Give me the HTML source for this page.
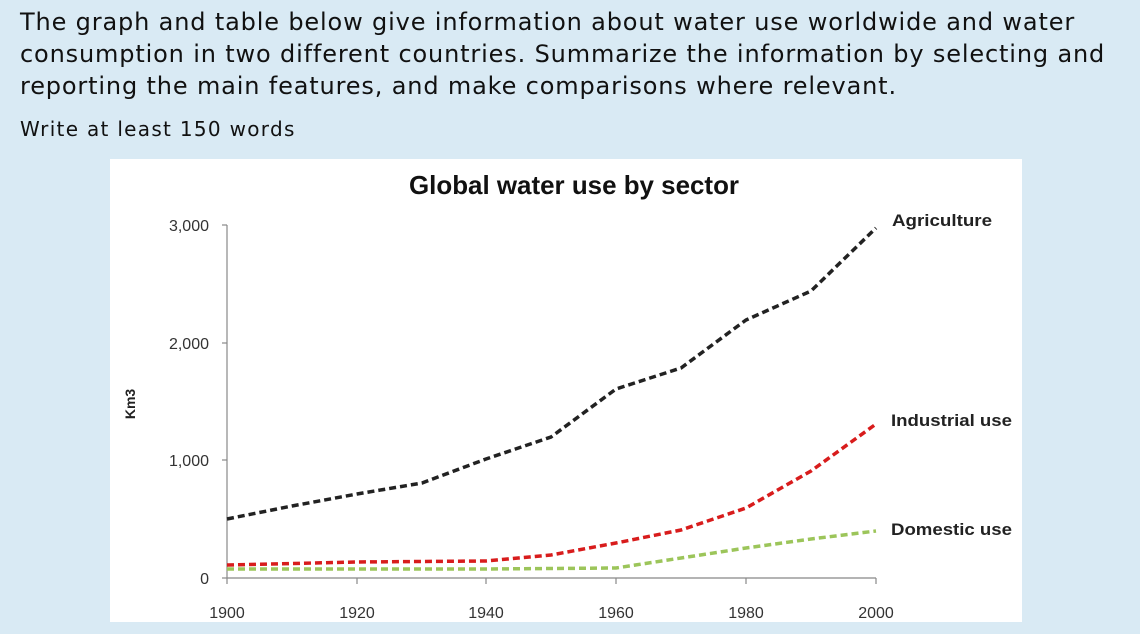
<!DOCTYPE html>
<html><head><meta charset="utf-8"><style>
body{margin:0;width:1140px;height:634px;background:#d9eaf4;font-family:"DejaVu Sans","Liberation Sans",sans-serif;overflow:hidden;position:relative}
.t{position:absolute;left:20px;top:6px;font-size:24px;letter-spacing:0.85px;line-height:32px;color:#111;white-space:nowrap}
.w{position:absolute;left:20px;top:117px;font-size:20px;letter-spacing:1.3px;color:#111}
</style></head><body>
<div class="t">The graph and table below give information about water use worldwide and water<br>consumption in two different countries. Summarize the information by selecting and<br>reporting the main features, and make comparisons where relevant.</div>
<div class="w">Write at least 150 words</div>
<svg style="position:absolute;left:0;top:0" width="1140" height="634">
<rect x="110" y="159" width="912" height="463" fill="#fff"/>
<text x="574" y="194" font-family="Liberation Sans,sans-serif" font-size="26" font-weight="bold" text-anchor="middle" fill="#111" textLength="330" lengthAdjust="spacingAndGlyphs">Global water use by sector</text>
<g stroke="#888" stroke-width="1.2" fill="none">
<line x1="227" y1="225" x2="227" y2="578"/><line x1="227" y1="578" x2="876" y2="578"/>
<line x1="222" y1="225" x2="227" y2="225"/><line x1="222" y1="343" x2="227" y2="343"/><line x1="222" y1="460" x2="227" y2="460"/><line x1="222" y1="578" x2="227" y2="578"/>
<line x1="227" y1="578" x2="227" y2="584"/><line x1="357" y1="578" x2="357" y2="584"/><line x1="486" y1="578" x2="486" y2="584"/><line x1="616" y1="578" x2="616" y2="584"/><line x1="746" y1="578" x2="746" y2="584"/><line x1="876" y1="578" x2="876" y2="584"/>
</g>
<g font-family="Liberation Sans,sans-serif" font-size="16" fill="#333" text-anchor="end">
<text x="209" y="231">3,000</text><text x="209" y="349">2,000</text><text x="209" y="466">1,000</text><text x="209" y="584">0</text>
</g>
<g font-family="Liberation Sans,sans-serif" font-size="16" fill="#333" text-anchor="middle">
<text x="227" y="618">1900</text><text x="357" y="618">1920</text><text x="486" y="618">1940</text><text x="616" y="618">1960</text><text x="746" y="618">1980</text><text x="876" y="618">2000</text>
</g>
<text transform="translate(135,404) rotate(-90)" font-family="Liberation Sans,sans-serif" font-size="14" font-weight="bold" fill="#222" text-anchor="middle">Km3</text>
<g fill="none" stroke-width="3.5" stroke-dasharray="7,4">
<polyline stroke="#222" points="227,519 292,506 357,494 422,483 486,459 551,437 616,389 681,368 746,320 811,291 876,228"/>
<polyline stroke="#d81c1c" points="227,565 357,562 486,561 551,555 616,543 681,530 746,508 811,471 876,424"/>
<polyline stroke="#9cc55a" points="227,569 486,569 616,568 681,558 746,548 811,539 876,531"/>
</g>
<g font-family="Liberation Sans,sans-serif" font-size="17" font-weight="bold" fill="#222">
<text x="892" y="226" textLength="100" lengthAdjust="spacingAndGlyphs">Agriculture</text><text x="891" y="426" textLength="121" lengthAdjust="spacingAndGlyphs">Industrial use</text><text x="891" y="535" textLength="121" lengthAdjust="spacingAndGlyphs">Domestic use</text>
</g>
</svg>
</body></html>
